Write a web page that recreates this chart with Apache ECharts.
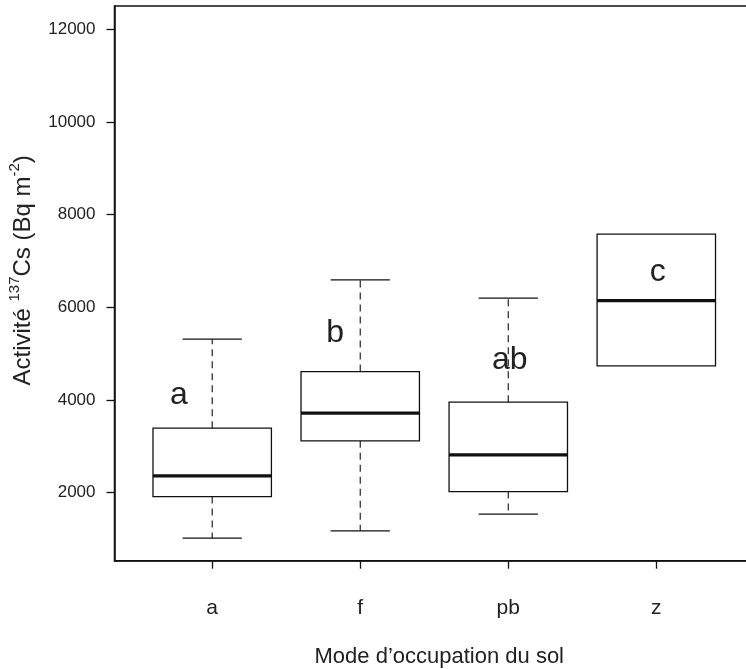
<!DOCTYPE html>
<html><head><meta charset="utf-8">
<script src="https://cdn.jsdelivr.net/npm/echarts@6/dist/echarts.min.js"></script>
<style>html,body{margin:0;padding:0;background:#fff}#c{width:746px;height:669px}</style>
</head><body><div id="c"></div>
<script>
// ---- data ----
const categories   = ['a', 'f', 'pb', 'z'];
const whiskerLow   = [1016, 1173, 1534, 4734];
const quartile1    = [1914, 3116, 2022, 4734];
const medians      = [2360, 3713, 2814, 6143];
const quartile3    = [3390, 4611, 3951, 7576];
const whiskerHigh  = [5310, 6590, 6195, 7576];
const groupLetters = ['a', 'b', 'ab', 'c'];
const letterX      = [0.775, 1.83, 3.01, 4.01];
const letterY      = [4108, 5440, 4864, 6748];
const yTickValues  = [2000, 4000, 6000, 8000, 10000, 12000];
const xTickValues  = [1, 2, 3, 4];

const ink = '#111';
const font = 'Liberation Sans, Arial, sans-serif';

const boxData = categories.map((c, i) => [i + 1, whiskerLow[i], quartile1[i], medians[i], quartile3[i], whiskerHigh[i]]);
const letterData = groupLetters.map((t, i) => [letterX[i], letterY[i], t]);

const chart = echarts.init(document.getElementById('c'), null, {renderer: 'canvas'});
chart.setOption({
  backgroundColor: '#ffffff',
  animation: false,
  grid: {left: 114.5, top: 6, bottom: 108.3, right: -8, outerBoundsMode: 'none', containLabel: false,
         show: true, borderColor: ink, borderWidth: 1.5, backgroundColor: 'transparent'},
  xAxis: {
    type: 'value', min: 0.34, max: 4.66,
    splitLine: {show: false},
    axisLine: {show: true, onZero: false, lineStyle: {color: ink, width: 1.5}},
    axisTick: {show: true, length: 8, customValues: xTickValues, lineStyle: {color: ink, width: 1.3}},
    axisLabel: {customValues: xTickValues, formatter: v => categories[Math.round(v) - 1], fontSize: 21, color: '#222', margin: 37, fontFamily: font},
    name: 'Mode d’occupation du sol', nameLocation: 'middle', nameGap: 85,
    nameTextStyle: {fontSize: 22, color: '#222', fontFamily: font, padding: [0, 0, 0, 10]}
  },
  yAxis: {
    type: 'value', min: 530, max: 12500,
    splitLine: {show: false},
    axisLine: {show: true, lineStyle: {color: ink, width: 1.5}},
    axisTick: {show: true, length: 8, customValues: yTickValues, lineStyle: {color: ink, width: 1.3}},
    axisLabel: {customValues: yTickValues, formatter: v => String(v), fontSize: 17, color: '#222', margin: 19, fontFamily: font},
    name: '{n|Activité }{s|137}{n|Cs (Bq m}{s|-2}{n|)}',
    nameLocation: 'middle', nameGap: 79,
    nameTextStyle: {
      color: '#222', fontFamily: font, padding: [0, 0, 0, 26],
      rich: {
        n: {fontSize: 24, lineHeight: 28, verticalAlign: 'bottom', fontFamily: font, color: '#222'},
        s: {fontSize: 15, lineHeight: 15, verticalAlign: 'top', fontFamily: font, color: '#222'}
      }
    }
  },
  series: [
    {
      type: 'custom',
      data: boxData,
      encode: {x: 0, y: [1, 2, 3, 4, 5]},
      clip: false,
      renderItem: (params, api) => {
        const x = api.value(0);
        const half = api.size([0.8, 0])[0] / 2;
        const cap = half / 2;
        const pLo = api.coord([x, api.value(1)]);
        const pQ1 = api.coord([x, api.value(2)]);
        const pMd = api.coord([x, api.value(3)]);
        const pQ3 = api.coord([x, api.value(4)]);
        const pHi = api.coord([x, api.value(5)]);
        const cx = pMd[0];
        const solid = {stroke: ink, lineWidth: 1.3, fill: null};
        const dashed = {stroke: ink, lineWidth: 1.1, lineDash: [7, 5], fill: null};
        const children = [];
        if (api.value(5) > api.value(4)) {
          children.push({type: 'line', shape: {x1: cx, y1: pQ3[1], x2: cx, y2: pHi[1]}, style: dashed});
          children.push({type: 'line', shape: {x1: cx - cap, y1: pHi[1], x2: cx + cap, y2: pHi[1]}, style: solid});
        }
        if (api.value(1) < api.value(2)) {
          children.push({type: 'line', shape: {x1: cx, y1: pQ1[1], x2: cx, y2: pLo[1]}, style: dashed});
          children.push({type: 'line', shape: {x1: cx - cap, y1: pLo[1], x2: cx + cap, y2: pLo[1]}, style: solid});
        }
        children.push({type: 'rect', shape: {x: cx - half, y: pQ3[1], width: 2 * half, height: pQ1[1] - pQ3[1]}, style: {stroke: ink, lineWidth: 1.3, fill: 'rgba(255,255,255,0)'}});
        children.push({type: 'line', shape: {x1: cx - half, y1: pMd[1], x2: cx + half, y2: pMd[1]}, style: {stroke: ink, lineWidth: 3.2}});
        return {type: 'group', children};
      }
    },
    {
      type: 'custom',
      data: letterData,
      encode: {x: 0, y: 1},
      renderItem: (params, api) => {
        const p = api.coord([api.value(0), api.value(1)]);
        return {
          type: 'text', x: p[0], y: p[1],
          style: {text: letterData[params.dataIndex][2], fontSize: 32, fontFamily: font, fill: '#222', align: 'center', verticalAlign: 'middle'}
        };
      }
    }
  ]
});
</script>
</body></html>
